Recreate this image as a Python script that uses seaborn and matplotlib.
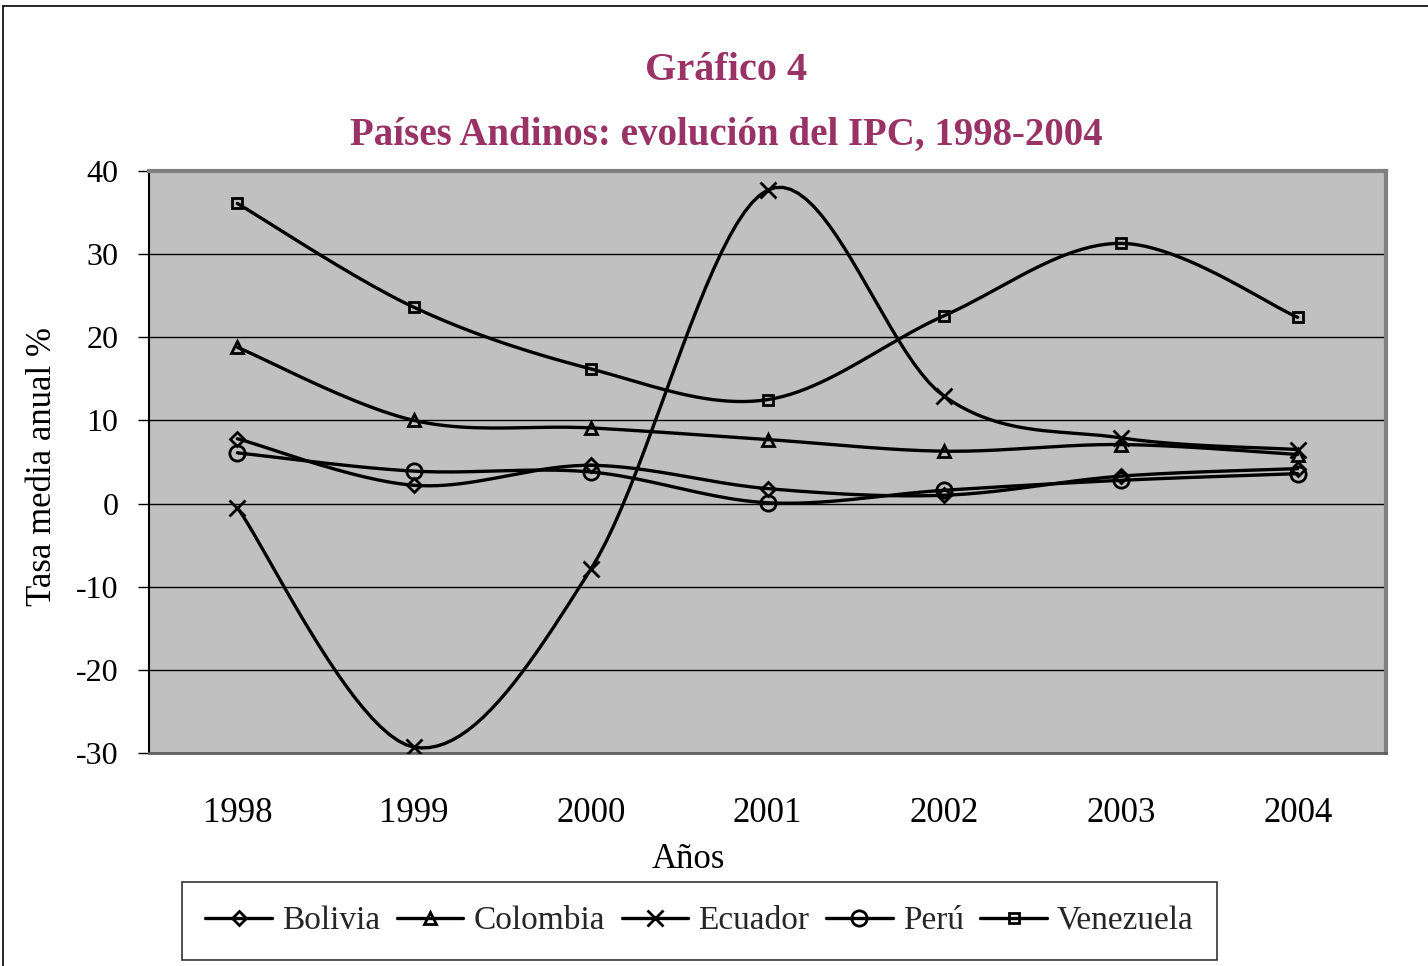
import numpy as np
import pandas as pd
import matplotlib
matplotlib.use("Agg")
import matplotlib.pyplot as plt
import seaborn as sns
from matplotlib.lines import Line2D

years = ["1998", "1999", "2000", "2001", "2002", "2003", "2004"]
bolivia = [7.8, 2.2, 4.6, 1.8, 1.0, 3.3, 4.2]
colombia = [18.8, 10.0, 9.1, 7.7, 6.3, 7.1, 5.9]
ecuador = [-0.5, -29.3, -7.9, 37.7, 12.9, 7.9, 6.5]
peru = [6.1, 3.9, 3.8, 0.1, 1.6, 2.8, 3.6]
venezuela = [36.1, 23.6, 16.2, 12.5, 22.6, 31.3, 22.4]

series_names = ["Bolivia", "Colombia", "Ecuador", "Perú", "Venezuela"]
series_vals = [bolivia, colombia, ecuador, peru, venezuela]
markers = ["D", "^", "x", "o", "s"]
msizes = [7, 9, 11, 11, 7]

sns.set_theme(style="white")
plt.rcParams["font.family"] = ["Liberation Serif", "DejaVu Serif"]

W, H = 1428, 966
fig = plt.figure(figsize=(W / 100, H / 100), dpi=100)
ax = fig.add_axes([149 / W, 1 - 753 / H, (1386 - 149) / W, (753 - 171) / H])
ax.set_facecolor("#C0C0C0")


def smooth(xs, ys, n=24):
    # Excel-like smoothed line (Catmull-Rom Bezier) for drawing only
    P = np.column_stack([xs, ys]).astype(float)
    Pe = np.vstack([P[0], P, P[-1]])
    out = []
    t = np.linspace(0, 1, n)
    for i in range(len(P) - 1):
        p0, p3 = Pe[i + 1], Pe[i + 2]
        p1 = p0 + (Pe[i + 2] - Pe[i]) / 6.0
        p2 = p3 - (Pe[i + 3] - Pe[i + 1]) / 6.0
        seg = ((1 - t) ** 3)[:, None] * p0 + (3 * (1 - t) ** 2 * t)[:, None] * p1 \
            + (3 * (1 - t) * t ** 2)[:, None] * p2 + (t ** 3)[:, None] * p3
        out.append(seg if i == 0 else seg[1:])
    return np.vstack(out)


xpos = np.arange(len(years))
rows = []
for name, vals in zip(series_names, series_vals):
    s = smooth(xpos, vals)
    for k, (xx, yy) in enumerate(s):
        rows.append({"serie": name, "x": xx, "y": yy, "k": k})
df = pd.DataFrame(rows)

for name, vals, m, ms in zip(series_names, series_vals, markers, msizes):
    sub = df[df["serie"] == name]
    sns.lineplot(data=sub, x="x", y="y", sort=False, estimator=None, ax=ax,
                 color="black", linewidth=2.4, legend=False)
    pts = pd.DataFrame({"x": xpos, "y": vals})
    ax.plot(pts["x"], pts["y"], linestyle="none", marker=m, markersize=ms,
            markerfacecolor="none", markeredgecolor="black", markeredgewidth=2.0,
            zorder=5)

ax.set_xlim(-0.5, 6.5)
ax.set_ylim(-30, 40)
ax.set_yticks(np.arange(-30, 41, 10))
ax.set_yticklabels(["-30", "-20", "-10", "0", "10", "20", "30", "40"])
ax.yaxis.grid(True, color="black", linewidth=1.0)
ax.xaxis.grid(False)
ax.set_axisbelow(True)

ax.set_xticks(xpos)
ax.set_xticklabels(years)
ax.set_xticks(np.arange(-0.5, 7.0, 1.0), minor=True)
ax.tick_params(axis="x", which="major", length=0, pad=32, labelsize=25, colors="black")
ax.tick_params(axis="x", which="minor", length=8, width=1, color="black", direction="out")
ax.tick_params(axis="y", which="major", length=8, width=1, color="black", direction="out",
               pad=14, labelsize=23, labelcolor="black", left=True)

for side in ["top", "right"]:
    ax.spines[side].set_color("#808080")
    ax.spines[side].set_linewidth(3)
ax.spines["left"].set_color("black")
ax.spines["left"].set_linewidth(1.5)
ax.spines["bottom"].set_color("#606060")
ax.spines["bottom"].set_linewidth(2)

ax.set_xlabel("Años", fontsize=25, color="black")
ax.xaxis.set_label_coords((688 - 149) / 1237, (753 - 860) / 582)
ax.xaxis.label.set_va("center")
ax.set_ylabel("Tasa media anual %", fontsize=25, color="black")
ax.yaxis.set_label_coords((43 - 149) / 1237, (753 - 466) / 582)
ax.yaxis.label.set_va("center")

title_color = "#993366"
fig.text(726 / W, 1 - 70 / H, "Gráfico 4", ha="center", va="center",
         fontsize=29, fontweight="bold", color=title_color)
fig.text(726 / W, 1 - 135 / H, "Países Andinos: evolución del IPC, 1998-2004",
         ha="center", va="center", fontsize=28, fontweight="bold", color=title_color)

handles = [Line2D([0], [0], color="black", linewidth=2.4, marker=m, markersize=ms,
                  markerfacecolor="none", markeredgecolor="black", markeredgewidth=2.0)
           for m, ms in zip(markers, msizes)]
leg = fig.legend(handles, series_names, loc="center", bbox_to_anchor=(699.5 / W, 1 - 921 / H),
                 ncol=5, fontsize=24, frameon=True, fancybox=False, handlelength=2.0,
                 handletextpad=0.3, columnspacing=0.5, borderpad=0.7, borderaxespad=0)
leg.get_frame().set_edgecolor("black")
leg.get_frame().set_linewidth(1.2)

fig.add_artist(Line2D([3 / W, 3 / W], [0, 1 - 6 / H], color="black", linewidth=1.2,
                      transform=fig.transFigure))
fig.add_artist(Line2D([3 / W, 1], [1 - 6 / H, 1 - 6 / H], color="black", linewidth=1.2,
                      transform=fig.transFigure))

fig.savefig("out.png", dpi=100, facecolor="white")
